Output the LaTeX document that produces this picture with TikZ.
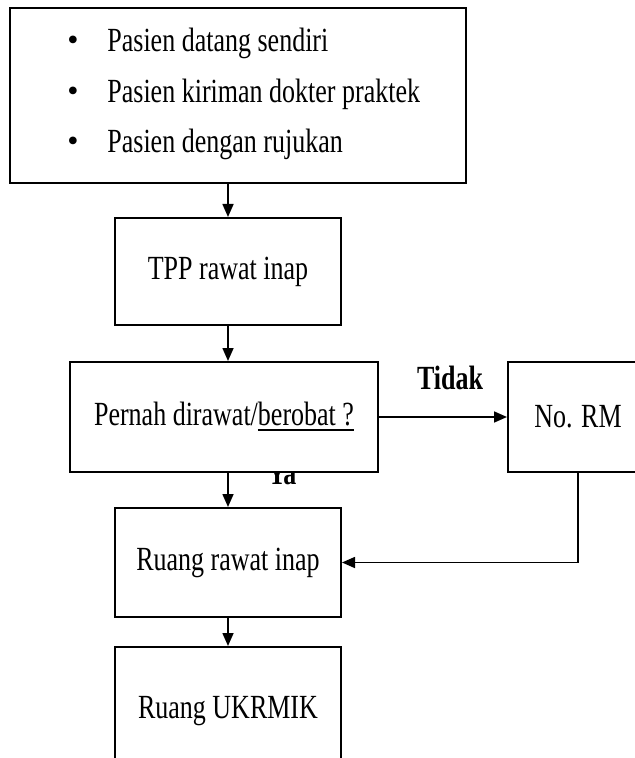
\documentclass[tikz,border=0pt]{standalone}
\usepackage{fontspec}
\setmainfont{Liberation Serif}
\usetikzlibrary{arrows.meta}
\newcommand{\talltext}[1]{\scalebox{1}[1.3]{#1}}
\tikzset{
  box/.style={draw, line width=1pt, fill=white, inner sep=0pt, font=\fontsize{13}{15}\selectfont},
  arr/.style={line width=0.8pt, -{Triangle[width=5.5pt,length=6.5pt]}},
  lbl/.style={font=\fontsize{13}{15}\selectfont\bfseries}
}
\begin{document}
\begin{tikzpicture}[x=0.5pt, y=-0.5pt]
  \useasboundingbox (0,0) rectangle (634,758);

  % labels first, the boxes cover them partly
  \node[lbl] (tidak) at (450,378) {\talltext{Tidak}};
  \node[lbl] (ya) at (282,474) {\talltext{Ya}};

  \node[box, minimum width=228pt, minimum height=87.5pt] (src) at (238,95.5) {};
  \foreach \y/\txt in {43/Pasien datang sendiri, 94/Pasien kiriman dokter praktek, 144/Pasien dengan rujukan} {
    \node[font=\fontsize{16}{15}\selectfont] at (73,\y) {\textbullet};
    \node[anchor=west, inner sep=0pt, font=\fontsize{13}{15}\selectfont] at (107,\y) {\talltext{\txt}};
  }

  \node[box, minimum width=113pt, minimum height=53.5pt] (tpp) at (228,271.5) {\talltext{TPP rawat inap}};
  \node[box, minimum width=154pt, minimum height=55pt] (ask) at (224,417) {\talltext{Pernah dirawat/\underline{berobat ?}}};
  \node[box, minimum width=70pt, minimum height=55pt] (rm) at (578,417) {\talltext{No. RM}};
  \node[box, minimum width=113pt, minimum height=54.5pt] (room) at (228,562.5) {\talltext{Ruang rawat inap}};
  \node[box, minimum width=113pt, minimum height=64pt] (ukr) at (228,711) {\talltext{Ruang UKRMIK}};

  \draw[arr] (src.south -| tpp.north) -- (tpp.north);
  \draw[arr] (tpp.south) -- (tpp.south |- ask.north);
  \draw[arr] (ask.south -| room.north) -- (room.north);
  \draw[arr] (ask.east) -- (rm.west);
  \draw[arr] (rm.south) |- (room.east);
  \draw[arr] (room.south) -- (ukr.north);
\end{tikzpicture}
\end{document}
